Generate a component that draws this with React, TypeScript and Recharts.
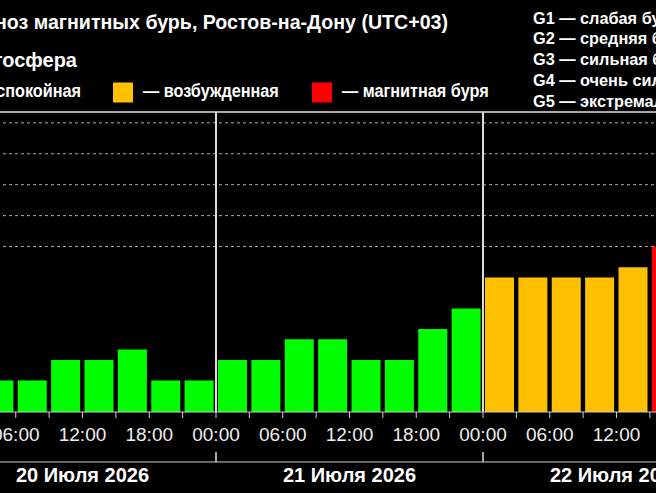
import React from 'react';
import { BarChart, Bar, XAxis, YAxis, Cell, ReferenceLine } from 'recharts';

// start hour of each 3-hour slot, counted from 20 July 00:00 (only the visible ones)
const slotStartHour = [3, 6, 9, 12, 15, 18, 21, 24, 27, 30, 33, 36, 39, 42, 45, 48, 51, 54, 57, 60, 63];
// Kp index per slot
const kpValues = [0.67, 0.67, 1.33, 1.33, 1.67, 0.67, 0.67, 1.33, 1.33, 2, 2, 1.33, 1.33, 2.33, 3, 4, 4, 4, 4, 4.33, 5];

const timeTicks = [0, 3, 6, 9, 12, 15, 18, 21, 24, 27, 30, 33, 36, 39, 42, 45, 48, 51, 54, 57, 60, 63, 66, 69, 72];
const dayTicks = [12, 24, 36, 48, 60];
const dayLabels = ['20 Июля 2026', '21 Июля 2026', '22 Июля 2026'];
const gridLevels = [5, 6, 7, 8, 9];
const gLevels = [
    'G1 — слабая буря',
    'G2 — средняя буря',
    'G3 — сильная буря',
    'G4 — очень сильная буря',
    'G5 — экстремальная буря',
];

const FONT = '"Liberation Sans", Arial, sans-serif';
const Y_MIN = -0.35;
const Y_MAX = 9.35;
const DAY_W = 267;
const PLOT_LEFT = -51; // 20 July 00:00 is off the left edge
const NARROW = 0.855; // legend font is a bit condensed

const COLORS = { calm: '#00ff00', active: '#ffc000', storm: '#ff0000' };
const barColor = (kp: number) => (kp >= 5 ? COLORS.storm : kp >= 4 ? COLORS.active : COLORS.calm);

const data = slotStartHour.map((h, i) => ({ mid: h + 1.5, kp: kpValues[i] }));

const fmtTime = (h: number) => {
    if (h % 6 !== 0) return '';
    const hh = h % 24;
    return `${hh < 10 ? '0' : ''}${hh}:00`;
};

const DayTick = (props: any) => {
    const { x, y, payload } = props;
    const v = payload.value;
    if (v % 24 === 0) {
        return <line x1={x} x2={x} y1={y - 10} y2={y} stroke="#ddd" strokeWidth={1.5} />;
    }
    return (
        <text x={x} y={y + 20} textAnchor="middle" fill="#fff" fontSize={20} fontWeight="bold" fontFamily={FONT}>
            {dayLabels[Math.floor(v / 24)]}
        </text>
    );
};

const LegendText = ({ x, y, anchor = 'start', children }: any) => (
    <g transform={`translate(${x},${y}) scale(${NARROW},1)`}>
        <text x={0} y={0} fontSize={19} textAnchor={anchor}>{children}</text>
    </g>
);

export default function App() {
    return (
        <div style={{ position: 'absolute', left: 0, top: 0, width: 656, height: 493, overflow: 'hidden', background: '#000' }}>
            <div style={{ position: 'absolute', left: PLOT_LEFT, top: 0 }}>
                <BarChart width={DAY_W * 3} height={493} data={data} margin={{ top: 112, right: 0, bottom: 0, left: 0 }}>
                    <XAxis
                        xAxisId="a_hours"
                        dataKey="mid"
                        type="number"
                        domain={[0, 72]}
                        ticks={timeTicks}
                        interval={0}
                        tickFormatter={fmtTime}
                        height={50}
                        tickSize={6}
                        tickMargin={10}
                        stroke="#ccc"
                        tick={{ fill: '#eee', fontSize: 19, fontFamily: FONT }}
                    />
                    <XAxis
                        xAxisId="b_days"
                        dataKey="mid"
                        type="number"
                        domain={[0, 72]}
                        ticks={dayTicks}
                        interval={0}
                        height={31}
                        tickSize={0}
                        tickMargin={0}
                        tickLine={false}
                        stroke="#ccc"
                        tick={(p: any) => <DayTick {...p} />}
                    />
                    <YAxis hide type="number" domain={[Y_MIN, Y_MAX]} allowDataOverflow />
                    {gridLevels.map((lv) => (
                        <ReferenceLine key={lv} xAxisId="a_hours" y={lv} stroke="#aaa" strokeDasharray="3 3" />
                    ))}
                    <ReferenceLine xAxisId="a_hours" y={Y_MAX} stroke="#ddd" strokeWidth={1.5} />
                    <ReferenceLine xAxisId="a_hours" x={24} stroke="#ddd" strokeWidth={2} />
                    <ReferenceLine xAxisId="a_hours" x={48} stroke="#ddd" strokeWidth={2} />
                    <Bar
                        xAxisId="a_hours"
                        dataKey={(d: any) => [Y_MIN, d.kp]}
                        barSize={29}
                        isAnimationActive={false}
                    >
                        {data.map((d, i) => (
                            <Cell key={i} fill={barColor(d.kp)} />
                        ))}
                    </Bar>
                </BarChart>
            </div>
            <svg width={656} height={493} style={{ position: 'absolute', left: 0, top: 0 }} fontFamily={FONT} fontWeight="bold" fill="#fff">
                <text x={448} y={29} fontSize={19.6} textAnchor="end">Прогноз магнитных бурь, Ростов-на-Дону (UTC+03)</text>
                <text x={77} y={67} fontSize={20} textAnchor="end">Магнитосфера</text>
                <rect x={-130} y={82.5} width={20} height={20} fill={COLORS.calm} />
                <LegendText x={81} y={97} anchor="end">— спокойная</LegendText>
                <rect x={113} y={82.5} width={20} height={20} fill={COLORS.active} />
                <LegendText x={143} y={97}>— возбужденная</LegendText>
                <rect x={312} y={82.5} width={20} height={20} fill={COLORS.storm} />
                <LegendText x={342} y={97}>— магнитная буря</LegendText>
                {gLevels.map((t, i) => (
                    <text key={t} x={533} y={23.5 + i * 20.9} fontSize={16.3}>{t}</text>
                ))}
            </svg>
        </div>
    );
}
